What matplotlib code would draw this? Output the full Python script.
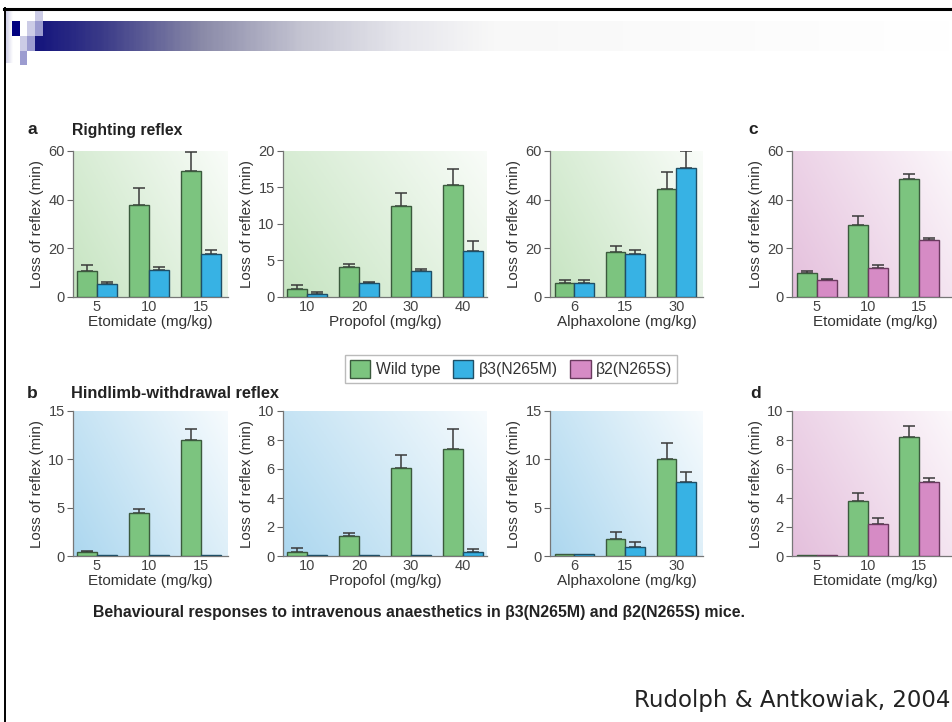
import numpy as np
import matplotlib.pyplot as plt
from matplotlib.colors import LinearSegmentedColormap, to_rgb
from matplotlib.patches import Rectangle, Patch

plt.rcParams['font.family'] = ['Liberation Sans', 'DejaVu Sans']

W, H = 952, 722

# ---- data (loss of reflex, min; err = upper SEM) ----
eto_doses = ['5', '10', '15']
prop_doses = ['10', '20', '30', '40']
alpha_doses = ['6', '15', '30']

a_eto_wt = [10.8, 37.7, 51.7]
a_eto_wt_err = [2.3, 6.9, 8.0]
a_eto_b3 = [5.2, 11.0, 17.6]
a_eto_b3_err = [1.0, 1.3, 1.9]

a_prop_wt = [1.06, 4.07, 12.45, 15.4]
a_prop_wt_err = [0.55, 0.45, 1.75, 2.1]
a_prop_b3 = [0.46, 1.85, 3.56, 6.25]
a_prop_b3_err = [0.24, 0.23, 0.34, 1.4]

a_alpha_wt = [5.7, 18.4, 44.3]
a_alpha_wt_err = [1.1, 2.7, 6.9]
a_alpha_b3 = [5.7, 17.5, 52.9]
a_alpha_b3_err = [1.1, 1.9, 6.9]

c_eto_wt = [9.7, 29.7, 48.3]
c_eto_wt_err = [0.9, 3.7, 2.3]
c_eto_b2 = [6.9, 12.0, 23.4]
c_eto_b2_err = [0.7, 1.1, 1.0]

b_eto_wt = [0.4, 4.5, 12.0]
b_eto_wt_err = [0.1, 0.35, 1.1]
b_eto_b3 = [0.15, 0.1, 0.15]
b_eto_b3_err = [0, 0, 0]

b_prop_wt = [0.3, 1.4, 6.1, 7.4]
b_prop_wt_err = [0.25, 0.2, 0.9, 1.35]
b_prop_b3 = [0.1, 0.1, 0.1, 0.3]
b_prop_b3_err = [0, 0, 0, 0.2]

b_alpha_wt = [0.2, 1.8, 10.0]
b_alpha_wt_err = [0, 0.7, 1.7]
b_alpha_b3 = [0.2, 0.9, 7.7]
b_alpha_b3_err = [0, 0.6, 1.0]

d_eto_wt = [0.1, 3.8, 8.2]
d_eto_wt_err = [0, 0.55, 0.75]
d_eto_b2 = [0.1, 2.2, 5.1]
d_eto_b2_err = [0, 0.4, 0.3]

GREEN, GREEN_E = '#7cc47f', '#3b5a3d'
BLUE, BLUE_E = '#37b2e4', '#1f4f66'
PINK, PINK_E = '#d68bc5', '#6a3a5f'

fig = plt.figure(figsize=(W / 100, H / 100), dpi=100)

# ---- slide decoration ----
ov = fig.add_axes([0, 0, 1, 1])
ov.set_xlim(0, W)
ov.set_ylim(H, 0)
ov.axis('off')
bar_cm = LinearSegmentedColormap.from_list('hdr', [
    (0.0, '#15157d'), (0.07, '#3a3a88'), (0.18, '#8a8aa8'),
    (0.29, '#c4c4d2'), (0.40, '#e6e6ec'), (0.5, '#f8f8f8'), (1.0, '#ffffff')])
ov.imshow(np.linspace(0, 1, 400)[None, :], extent=(35, W, 51, 21),
          cmap=bar_cm, aspect='auto', zorder=1)
strip_cm = LinearSegmentedColormap.from_list('strip', ['#c8c8e4', '#ffffff'])
ov.imshow(np.linspace(0, 1, 50)[None, :], extent=(5, 13, 63, 10),
          cmap=strip_cm, aspect='auto', zorder=1)
light, mid = '#ccccE6', '#9c9cd0'
for x, y, w, h, c in [(12, 21, 7.5, 15, '#000080'), (35, 10, 8, 11, light),
                      (27, 21, 8, 15, light), (35, 21, 8, 15, mid),
                      (19.5, 36, 7.5, 15, light), (27, 36, 8, 15, mid),
                      (19.5, 51, 7.5, 14, mid)]:
    ov.add_patch(Rectangle((x, y), w, h, color=c, lw=0, zorder=2))
ov.plot([4, W], [8.5, 8.5], color='black', lw=2.2, zorder=3)
ov.plot([4.5, 4.5], [8, H], color='black', lw=1.4, zorder=3)


def bg_image(base):
    xx, yy = np.meshgrid(np.linspace(0, 1, 80), np.linspace(1, 0, 80))
    t = np.clip(0.6 * xx + 0.3 * yy, 0, 1)[..., None]
    b = np.array(to_rgb(base))
    return b * (1 - t) + np.ones(3) * t


def panel(px, py, xlim, ymax, yticks, doses, wt, wt_err, mut, mut_err,
          mut_c, mut_e, bg, xlabel):
    x0, x1 = px
    y0, y1 = py
    ax = fig.add_axes([x0 / W, 1 - y1 / H, (x1 - x0) / W, (y1 - y0) / H])
    ax.imshow(bg_image(bg), extent=(xlim[0], xlim[1], 0, ymax),
              aspect='auto', zorder=0)
    x = np.arange(len(doses))
    bw = 0.39
    ax.bar(x - bw / 2, wt, bw, color=GREEN, edgecolor=GREEN_E, lw=1, zorder=3)
    ax.bar(x + bw / 2, mut, bw, color=mut_c, edgecolor=mut_e, lw=1, zorder=3)
    for off, vals, errs in [(-bw / 2, wt, wt_err), (bw / 2, mut, mut_err)]:
        vals, errs = np.array(vals), np.array(errs)
        m = errs > 0
        ax.errorbar(x[m] + off, vals[m], yerr=[np.zeros(m.sum()), errs[m]],
                    fmt='none', ecolor='#3a3a3a', elinewidth=1.1,
                    capsize=4.5, capthick=1.1, zorder=2)
    ax.set_xlim(*xlim)
    ax.set_ylim(0, ymax)
    ax.set_yticks(yticks)
    ax.set_xticks(x)
    ax.set_xticklabels(doses)
    ax.tick_params(axis='y', direction='out', length=4, width=0.8,
                   color='#666', labelsize=10.5, labelcolor='#444', pad=2)
    ax.tick_params(axis='x', length=0, labelsize=10.5, labelcolor='#444', pad=2)
    for s in ['top', 'right']:
        ax.spines[s].set_visible(False)
    for s in ['left', 'bottom']:
        ax.spines[s].set_color('#777')
        ax.spines[s].set_linewidth(0.9)
    ax.set_xlabel(xlabel, fontsize=11, color='#333', labelpad=1)
    ax.set_ylabel('Loss of reflex (min)', fontsize=10.8, color='#333',
                  labelpad=3)
    return ax


TOP = (151, 297)
BOT = (411, 556)
C1, C2, C3, C4 = (73, 228), (283, 487), (550, 703), (792, 958)
GBG, BBG, PBG = '#c6e4c1', '#acd7ef', '#e4bfdc'

panel(C1, TOP, (-0.46, 2.52), 60, [0, 20, 40, 60], eto_doses, a_eto_wt,
      a_eto_wt_err, a_eto_b3, a_eto_b3_err, BLUE, BLUE_E, GBG, 'Etomidate (mg/kg)')
panel(C2, TOP, (-0.46, 3.46), 20, [0, 5, 10, 15, 20], prop_doses, a_prop_wt,
      a_prop_wt_err, a_prop_b3, a_prop_b3_err, BLUE, BLUE_E, GBG, 'Propofol (mg/kg)')
panel(C3, TOP, (-0.48, 2.52), 60, [0, 20, 40, 60], alpha_doses, a_alpha_wt,
      a_alpha_wt_err, a_alpha_b3, a_alpha_b3_err, BLUE, BLUE_E, GBG,
      'Alphaxolone (mg/kg)')
panel(C4, TOP, (-0.48, 2.75), 60, [0, 20, 40, 60], eto_doses, c_eto_wt,
      c_eto_wt_err, c_eto_b2, c_eto_b2_err, PINK, PINK_E, PBG, 'Etomidate (mg/kg)')

panel(C1, BOT, (-0.46, 2.52), 15, [0, 5, 10, 15], eto_doses, b_eto_wt,
      b_eto_wt_err, b_eto_b3, b_eto_b3_err, BLUE, BLUE_E, BBG, 'Etomidate (mg/kg)')
panel(C2, BOT, (-0.46, 3.46), 10, [0, 2, 4, 6, 8, 10], prop_doses, b_prop_wt,
      b_prop_wt_err, b_prop_b3, b_prop_b3_err, BLUE, BLUE_E, BBG, 'Propofol (mg/kg)')
panel(C3, BOT, (-0.48, 2.52), 15, [0, 5, 10, 15], alpha_doses, b_alpha_wt,
      b_alpha_wt_err, b_alpha_b3, b_alpha_b3_err, BLUE, BLUE_E, BBG,
      'Alphaxolone (mg/kg)')
panel(C4, BOT, (-0.48, 2.75), 10, [0, 2, 4, 6, 8, 10], eto_doses, d_eto_wt,
      d_eto_wt_err, d_eto_b2, d_eto_b2_err, PINK, PINK_E, PBG, 'Etomidate (mg/kg)')

# ---- panel letters and titles ----
for xp, yp, s in [(27, 130, 'a'), (27, 393, 'b'), (748, 130, 'c'), (750, 393, 'd')]:
    fig.text(xp / W, 1 - yp / H, s, fontsize=12.5, fontweight='bold',
             color='#222', va='center')
fig.text(72 / W, 1 - 130 / H, 'Righting reflex', fontsize=11.3,
         fontweight='bold', color='#222', va='center')
fig.text(71 / W, 1 - 393 / H, 'Hindlimb-withdrawal reflex', fontsize=11.8,
         fontweight='bold', color='#222', va='center')

handles = [Patch(facecolor=GREEN, edgecolor=GREEN_E, label='Wild type'),
           Patch(facecolor=BLUE, edgecolor=BLUE_E, label='β3(N265M)'),
           Patch(facecolor=PINK, edgecolor=PINK_E, label='β2(N265S)')]
leg = fig.legend(handles=handles, loc='center', ncol=3,
                 bbox_to_anchor=(511 / W, 1 - 369 / H), fontsize=11.3,
                 frameon=True, fancybox=False, edgecolor='#aaaaaa',
                 handlelength=1.3, handleheight=1.4, handletextpad=0.35,
                 columnspacing=0.8, borderpad=0.3)
leg.get_frame().set_linewidth(1)
for t in leg.get_texts():
    t.set_color('#333')

fig.text(93 / W, 1 - 612 / H,
         'Behavioural responses to intravenous anaesthetics in β3(N265M) '
         'and β2(N265S) mice.', fontsize=11.4, fontweight='bold',
         color='#222', va='center')
fig.text(634 / W, 1 - 700 / H, 'Rudolph & Antkowiak, 2004',
         family='DejaVu Sans', fontsize=16.5, color='#222', va='center')

fig.savefig('out.png', dpi=100)
